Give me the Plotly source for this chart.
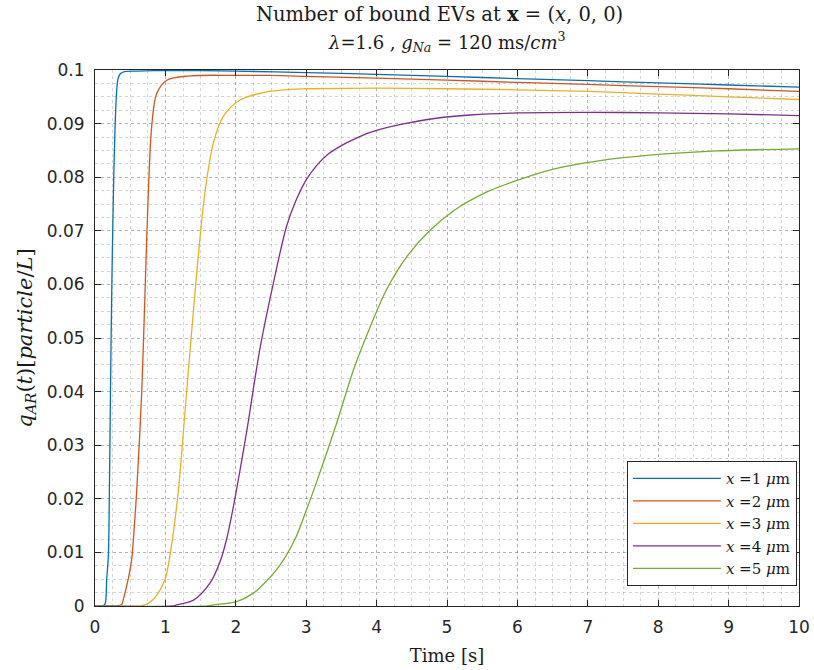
import plotly.graph_objects as go

# ---- data ----
t1 = [0, 0.1, 0.14, 0.166, 0.19, 0.204, 0.22, 0.237, 0.26, 0.284, 0.31, 0.33, 0.36, 0.42, 0.6, 1.0, 1.5, 2, 3, 4, 5, 6, 7, 8, 9, 10]
q1 = [0, 0, 0.0003, 0.005, 0.0095, 0.021, 0.040, 0.058, 0.076, 0.089, 0.0965, 0.0985, 0.0993, 0.0997, 0.0998, 0.0999, 0.0999, 0.0998, 0.0995, 0.0992, 0.0988, 0.0984, 0.0980, 0.0976, 0.0972, 0.0968]

t2 = [0, 0.3, 0.38, 0.40, 0.47, 0.52, 0.545, 0.59, 0.663, 0.71, 0.757, 0.805, 0.876, 1.02, 1.35, 2, 2.5, 3, 4, 5, 6, 7, 8, 9, 10]
q2 = [0, 0, 0.0003, 0.0011, 0.0049, 0.0086, 0.0123, 0.021, 0.0397, 0.0583, 0.077, 0.0894, 0.0956, 0.0981, 0.0989, 0.0990, 0.0990, 0.0988, 0.0985, 0.0981, 0.0977, 0.0973, 0.0969, 0.0965, 0.0960]

t3 = [0, 0.65, 0.71, 0.805, 0.876, 0.994, 1.065, 1.18, 1.30, 1.44, 1.56, 1.68, 1.82, 2.06, 2.39, 2.77, 3, 4, 5, 6, 7, 8, 9, 10]
q3 = [0, 0, 0.0002, 0.0010, 0.0020, 0.0049, 0.0095, 0.021, 0.0397, 0.0614, 0.077, 0.0863, 0.0913, 0.0944, 0.0958, 0.0964, 0.0965, 0.0966, 0.0965, 0.0963, 0.0960, 0.0955, 0.0950, 0.0945]

t4 = [0, 1.1, 1.16, 1.40, 1.63, 1.78, 1.87, 1.965, 2.15, 2.34, 2.53, 2.72, 2.85, 3.0, 3.15, 3.3, 3.5, 3.7, 3.9, 4.1, 4.4, 4.85, 5.33, 6, 7, 8, 9, 10]
q4 = [0, 0, 0.0002, 0.0011, 0.0042, 0.0084, 0.0125, 0.0185, 0.0322, 0.0478, 0.0600, 0.0708, 0.0755, 0.0795, 0.0822, 0.0842, 0.0859, 0.0872, 0.0883, 0.0891, 0.0900, 0.0910, 0.0916, 0.0920, 0.0921, 0.0920, 0.0918, 0.0915]

t5 = [0, 1.6, 1.68, 2.01, 2.25, 2.44, 2.58, 2.72, 2.86, 3.0, 3.15, 3.43, 3.67, 3.91, 4.14, 4.43, 4.76, 5.09, 5.56, 6.04, 6.51, 7.13, 7.88, 8.83, 10]
q5 = [0, 0, 0.0002, 0.0008, 0.0024, 0.0047, 0.0068, 0.0095, 0.0130, 0.0178, 0.0232, 0.034, 0.044, 0.0521, 0.059, 0.0652, 0.0701, 0.0737, 0.0772, 0.0796, 0.0815, 0.0830, 0.0841, 0.0849, 0.0853]

names = ["<i>x</i> =1 <i>μ</i>m", "<i>x</i> =2 <i>μ</i>m", "<i>x</i> =3 <i>μ</i>m",
         "<i>x</i> =4 <i>μ</i>m", "<i>x</i> =5 <i>μ</i>m"]
colors = ["#0072BD", "#D95319", "#EDB120", "#7E2F8E", "#77AC30"]

xticks = [0, 1, 2, 3, 4, 5, 6, 7, 8, 9, 10]
yticks = [0, 0.01, 0.02, 0.03, 0.04, 0.05, 0.06, 0.07, 0.08, 0.09, 0.1]
ytick_text = ["0", "0.01", "0.02", "0.03", "0.04", "0.05", "0.06", "0.07", "0.08", "0.09", "0.1"]

title_line1 = "Number of bound EVs at <b>x</b> = (<i>x</i>, 0, 0)"
title_line2 = "<i>λ</i>=1.6 , <i>g</i><sub><i>Na</i></sub> = 120 ms/<i>cm</i><sup>3</sup>"

fig = go.Figure()
for tt, qq, nm, c in zip([t1, t2, t3, t4, t5], [q1, q2, q3, q4, q5], names, colors):
    fig.add_trace(go.Scatter(x=tt, y=qq, mode="lines", name=nm,
                             line=dict(color=c, width=1.3, shape="spline", smoothing=0.9)))

serif = "DejaVu Serif, serif"
sans = "DejaVu Sans, sans-serif"
axcol = "#262626"
txtcol = "#1a1a1a"
gridcol = "rgba(0,0,0,0.16)"

fig.update_layout(
    width=814, height=670,
    margin=dict(l=95, r=15, t=70, b=64, autoexpand=False),
    paper_bgcolor="white", plot_bgcolor="white",
    showlegend=True,
    legend=dict(x=0.997, y=0.037, xanchor="right", yanchor="bottom",
                bgcolor="white", bordercolor=axcol, borderwidth=1,
                font=dict(family=serif, size=15, color=txtcol),
                tracegroupgap=0, itemwidth=88),
    annotations=[
        dict(text=title_line1, xref="paper", yref="paper", x=0.49, y=1 + 55 / 536,
             xanchor="center", yanchor="middle", showarrow=False,
             font=dict(family=serif, size=19.5, color=txtcol)),
        dict(text=title_line2, xref="paper", yref="paper", x=0.5, y=1 + 28 / 536,
             xanchor="center", yanchor="middle", showarrow=False,
             font=dict(family=serif, size=18, color=txtcol)),
    ],
)
fig.update_xaxes(range=[0, 10], tickvals=xticks, ticks="inside", ticklen=6, tickcolor=axcol,
                 showline=True, linecolor=axcol, linewidth=1, mirror="ticks", automargin=False,
                 showgrid=True, gridcolor=gridcol, griddash="dot", gridwidth=1,
                 minor=dict(dtick=0.25, showgrid=True, gridcolor=gridcol, griddash="dot", ticks=""),
                 tickfont=dict(family=sans, size=17, color=axcol), zeroline=False, ticklabelstandoff=6,
                 title=dict(text="Time [s]", font=dict(family=serif, size=18, color=txtcol), standoff=12))
fig.update_yaxes(range=[0, 0.1], tickvals=yticks, ticktext=ytick_text, ticks="inside", ticklen=6, tickcolor=axcol,
                 showline=True, linecolor=axcol, linewidth=1, mirror="ticks", automargin=False,
                 showgrid=True, gridcolor=gridcol, griddash="dot", gridwidth=1,
                 minor=dict(dtick=0.0025, showgrid=True, gridcolor=gridcol, griddash="dot", ticks=""),
                 tickfont=dict(family=sans, size=17, color=axcol), zeroline=False, ticklabelstandoff=6,
                 title=dict(text="<i>q</i><sub><i>AR</i></sub>(<i>t</i>)[<i>particle</i>/<i>L</i>]",
                            font=dict(family=serif, size=21, color=txtcol), standoff=8))

fig.write_html("out.html")
